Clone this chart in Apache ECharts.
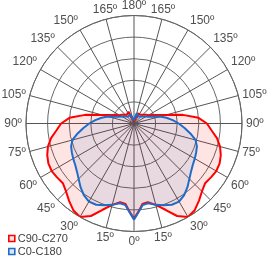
<!DOCTYPE html>
<html><head><meta charset="utf-8">
<script src="https://cdn.jsdelivr.net/npm/echarts@6/dist/echarts.min.js"></script>
<style>html,body{margin:0;padding:0;background:#fff}#c{width:274px;height:259px}</style>
</head><body><div id="c"></div>
<script>
// gamma angles (deg from nadir), both halves symmetric
var gammas = [0,3,6,10,15,20,25,30,35,40,45,50,55,60,65,70,75,80,85,90,95,100,105,110,115,120,125,130,135,140,145,150,155,160,165,170,175,180];
// C90-C270 relative intensity
var c90 = [88,81.5,75,74,78,85,94.5,100,98,93.5,89,86,87,88,87.5,85.5,82.5,78,72,67.5,60,46,30.5,23,18.5,15.5,14,12.5,11.5,10.5,10,10,12,10,4.5,3,2,2];
// C0-C180 relative intensity
var c0 = [89,82,76,75,78,80.5,83,83.5,81,77,72.5,69,66.5,65,63.5,62,59,53,47,41.5,36,30.5,25,18.5,15,13,11.5,10,9,8.5,8,7.5,7.5,8.5,10,6.5,3,2];
var seriesNames = ['C90-C270','C0-C180'];

function closed(vals){
  var d = [];
  for (var i=0;i<gammas.length;i++) d.push([vals[i], gammas[i]]);
  for (var j=gammas.length-2;j>=0;j--) d.push([vals[j], 360-gammas[j]]);
  return d;
}
var chart = echarts.init(document.getElementById('c'), null, {renderer:'canvas'});
chart.setOption({
  animation:false,
  polar:{center:[134,123.5], radius:108},
  angleAxis:{
    type:'value', min:0, max:360, interval:15, startAngle:270, clockwise:true,
    axisLine:{show:true, lineStyle:{color:'#666', width:1}},
    axisTick:{show:false},
    splitLine:{show:true, lineStyle:{color:'#555', width:1}},
    axisLabel:{margin:4, color:'#505050', fontSize:12, fontFamily:'Liberation Sans',
      formatter:function(v){ return (v<=180 ? v : 360-v) + 'º'; }}
  },
  radiusAxis:{
    type:'value', min:0, max:100, interval:20,
    axisLine:{show:false}, axisTick:{show:false}, axisLabel:{show:false},
    splitLine:{show:true, lineStyle:{color:'#666', width:1}}
  },
  legend:{
    orient:'vertical', left:8, bottom:1, padding:0, itemWidth:6, itemHeight:6, itemGap:0, icon:'rect',
    textStyle:{fontSize:11, lineHeight:13, color:'#404040', fontFamily:'Liberation Sans', padding:[0,0,0,-2]},
    data:[
      {name:seriesNames[0], itemStyle:{color:'#fde0e0', borderColor:'#ff0000', borderWidth:1.6}},
      {name:seriesNames[1], itemStyle:{color:'#dbe6f4', borderColor:'#1f6cc8', borderWidth:1.6}}
    ]
  },
  series:[
    {name:seriesNames[0], type:'line', coordinateSystem:'polar', data:closed(c90),
     showSymbol:false, symbol:'none', smooth:false,
     lineStyle:{color:'#ff0000', width:2}, itemStyle:{color:'#ff0000'},
     areaStyle:{color:'rgba(255,0,0,0.15)', origin:'start'}},
    {name:seriesNames[1], type:'line', coordinateSystem:'polar', data:closed(c0),
     showSymbol:false, symbol:'none', smooth:false,
     lineStyle:{color:'#1f6cc8', width:2}, itemStyle:{color:'#1f6cc8'},
     areaStyle:{color:'rgba(0,90,170,0.13)', origin:'start'}}
  ]
});
</script></body></html>
